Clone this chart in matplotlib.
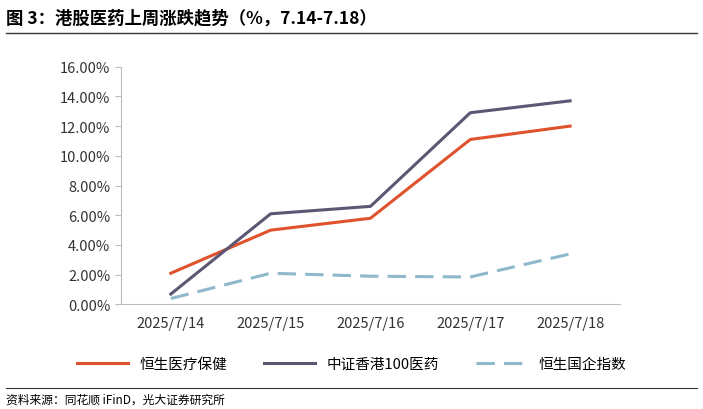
import matplotlib.pyplot as plt
from matplotlib.ticker import FuncFormatter

plt.rcParams['font.family'] = ['Noto Sans CJK SC', 'DejaVu Sans']

dates = ["2025/7/14", "2025/7/15", "2025/7/16", "2025/7/17", "2025/7/18"]
hs_health = [2.1, 5.0, 5.8, 11.1, 12.0]
csi_hk100_med = [0.7, 6.1, 6.6, 12.9, 13.7]
hs_china_ent = [0.4, 2.1, 1.9, 1.85, 3.4]

fig = plt.figure(figsize=(7.03, 4.10), dpi=100)
fig.text(0.008, 0.955, "图 3：港股医药上周涨跌趋势（%，7.14-7.18）", fontsize=12.5,
         fontweight='bold', va='center')
fig.add_artist(plt.Line2D([0.008, 0.992], [0.918, 0.918], color='#333333', lw=1))
fig.add_artist(plt.Line2D([0.008, 0.992], [0.052, 0.052], color='#333333', lw=0.8))
fig.text(0.008, 0.025, "资料来源：同花顺 iFinD，光大证券研究所", fontsize=8.5, va='center')

ax = fig.add_axes([0.172, 0.255, 0.71, 0.58])
x = range(len(dates))
ax.plot(x, hs_health, color='#e0522d', lw=2.2, label="恒生医疗保健")
ax.plot(x, csi_hk100_med, color='#5c5773', lw=2.2, label="中证香港100医药")
ax.plot(x, hs_china_ent, color='#8fb8cc', lw=2.2, ls=(0, (6, 3)), label="恒生国企指数")

ax.set_xlim(-0.5, 4.5)
ax.set_ylim(0, 16)
ax.set_yticks(range(0, 17, 2))
ax.yaxis.set_major_formatter(FuncFormatter(lambda v, p: f"{v:.2f}%"))
ax.set_xticks(list(x))
ax.set_xticklabels(dates)
for s in ['top', 'right']:
    ax.spines[s].set_visible(False)
ax.spines['left'].set_color('#bbbbbb')
ax.spines['bottom'].set_color('#bbbbbb')
ax.tick_params(axis='y', colors='#bbbbbb', labelcolor='#333333', labelsize=10.5, length=4)
ax.tick_params(axis='x', length=0, labelsize=10.5, labelcolor='#333333', pad=8)

fig.legend(loc='center', bbox_to_anchor=(0.5, 0.11), ncol=3, frameon=False,
           fontsize=10.5, handlelength=3.5, columnspacing=2.5)
fig.savefig("out.png", dpi=100)
